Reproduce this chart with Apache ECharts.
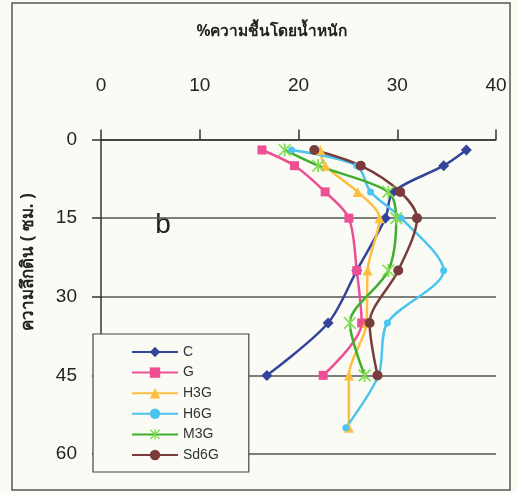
<!DOCTYPE html>
<html>
<head>
<meta charset="utf-8">
<script src="https://cdn.jsdelivr.net/npm/echarts@6/dist/echarts.min.js"></script>
<style>
  html, body { margin: 0; padding: 0; background: #fbfbf5; }
  #chart { width: 517px; height: 493px; }
</style>
</head>
<body>
<div id="chart"></div>
<script>
// Soil depth (cm) at each sampling layer
const depthsUpper = [2, 5, 10, 15, 25, 35, 45];
const depthsFull  = [2, 5, 10, 15, 25, 35, 45, 55];

// Moisture content (% by weight) for each treatment
const moistC    = [37.0, 34.7, 29.6, 28.8, 25.9, 23.0, 16.8];
const moistG    = [16.3, 19.6, 22.7, 25.1, 25.9, 26.4, 22.5];
const moistH3G  = [22.2, 22.7, 26.0, 28.2, 27.0, 26.9, 25.1, 25.1];
const moistH6G  = [19.3, 25.9, 27.3, 30.4, 34.7, 29.0, 28.1, 24.8];
const moistM3G  = [18.6, 22.0, 29.1, 29.9, 29.1, 25.2, 26.7];
const moistSd6G = [21.6, 26.3, 30.3, 32.0, 30.1, 27.2, 28.0];

const xTicks = [0, 10, 20, 30, 40];
const yTicks = [0, 15, 30, 45, 60];

const titleText = '%ความชื้นโดยน้ำหนัก';
const yName = 'ความลึกดิน ( ซม. )';

function pairs(xs, ys) {
  return xs.map((v, i) => [v, ys[i]]);
}

// six-armed asterisk marker (vertical bar plus an X)
const starPath = 'path://M-1,-8L1,-8L1,8L-1,8Z' +
  'M-6.36,-7.78L7.78,6.36L6.36,7.78L-7.78,-6.36Z' +
  'M-6.36,7.78L-7.78,6.36L6.36,-7.78L7.78,-6.36Z';

function lineSeries(name, data, color, symbol, size, markerColor) {
  return {
    name: name,
    type: 'line',
    data: data,
    smooth: 0.3,
    symbol: symbol,
    symbolSize: size,
    showAllSymbol: true,
    lineStyle: { color: color, width: 2.5 },
    itemStyle: { color: markerColor || color },
    emphasis: { disabled: true },
    z: 3
  };
}

const font = '"Liberation Sans", Arial, sans-serif';
const chart = echarts.init(document.getElementById('chart'));
chart.setOption({
  animation: false,
  backgroundColor: '#fbfbf5',
  grid: { left: 101, right: 21, top: 139.5, bottom: 39, containLabel: false },
  xAxis: {
    type: 'value',
    position: 'top',
    min: xTicks[0],
    max: xTicks[xTicks.length - 1],
    interval: 10,
    axisLine: { show: true, lineStyle: { color: '#333', width: 1.5 } },
    axisTick: { show: true, inside: false, length: 10, lineStyle: { color: '#333', width: 1.5 } },
    axisLabel: { color: '#222', fontSize: 19, fontFamily: font, margin: 44 },
    splitLine: { show: false }
  },
  yAxis: {
    type: 'value',
    inverse: true,
    min: yTicks[0],
    max: yTicks[yTicks.length - 1],
    interval: 15,
    axisLine: { show: true, lineStyle: { color: '#333', width: 1.5 } },
    axisTick: { show: true, inside: false, length: 9, lineStyle: { color: '#333', width: 1.5 } },
    axisLabel: { color: '#222', fontSize: 19, fontFamily: font, margin: 24 },
    splitLine: { show: true, lineStyle: { color: '#555', width: 1.5 } }
  },
  legend: {
    orient: 'vertical',
    left: 93,
    top: 334,
    padding: [11, 30, 10, 38],
    itemGap: 6.6,
    itemWidth: 46,
    itemHeight: 13,
    backgroundColor: '#fbfbf5',
    borderColor: '#444',
    borderWidth: 1.2,
    borderRadius: 0,
    textStyle: { color: '#333', fontSize: 14, fontFamily: font },
    data: ['C', 'G', 'H3G', 'H6G', 'M3G', 'Sd6G']
  },
  series: [
    lineSeries('C', pairs(moistC, depthsUpper), '#34449a', 'diamond', 11),
    lineSeries('G', pairs(moistG, depthsUpper), '#ee4f94', 'rect', 9),
    lineSeries('H3G', pairs(moistH3G, depthsFull), '#fdbf3f', 'triangle', 10),
    lineSeries('H6G', pairs(moistH6G, depthsFull), '#4cc4ef', 'circle', 7),
    lineSeries('M3G', pairs(moistM3G, depthsUpper), '#3fae2f', starPath, 13, '#7fdc4f'),
    lineSeries('Sd6G', pairs(moistSd6G, depthsUpper), '#7a3b3b', 'circle', 10)
  ],
  graphic: [
    {
      type: 'rect',
      shape: { x: 12, y: 3, width: 498, height: 487 },
      style: { fill: 'none', stroke: '#555', lineWidth: 1.5 },
      silent: true
    },
    {
      type: 'text',
      x: 272, y: 32,
      style: {
        text: titleText, fill: '#222',
        font: 'bold 15.5px "Noto Sans", "DejaVu Sans", sans-serif',
        textAlign: 'center', textVerticalAlign: 'middle'
      }
    },
    {
      type: 'text',
      x: 28, y: 262,
      rotation: Math.PI / 2,
      style: {
        text: yName, fill: '#222',
        font: 'bold 17px "Noto Sans", "DejaVu Sans", sans-serif',
        textAlign: 'center', textVerticalAlign: 'middle'
      }
    },
    {
      type: 'text',
      x: 163, y: 225,
      style: {
        text: 'b', fill: '#222',
        font: '28px "Liberation Sans", Arial, sans-serif',
        textAlign: 'center', textVerticalAlign: 'middle'
      }
    }
  ]
});
</script>
</body>
</html>
